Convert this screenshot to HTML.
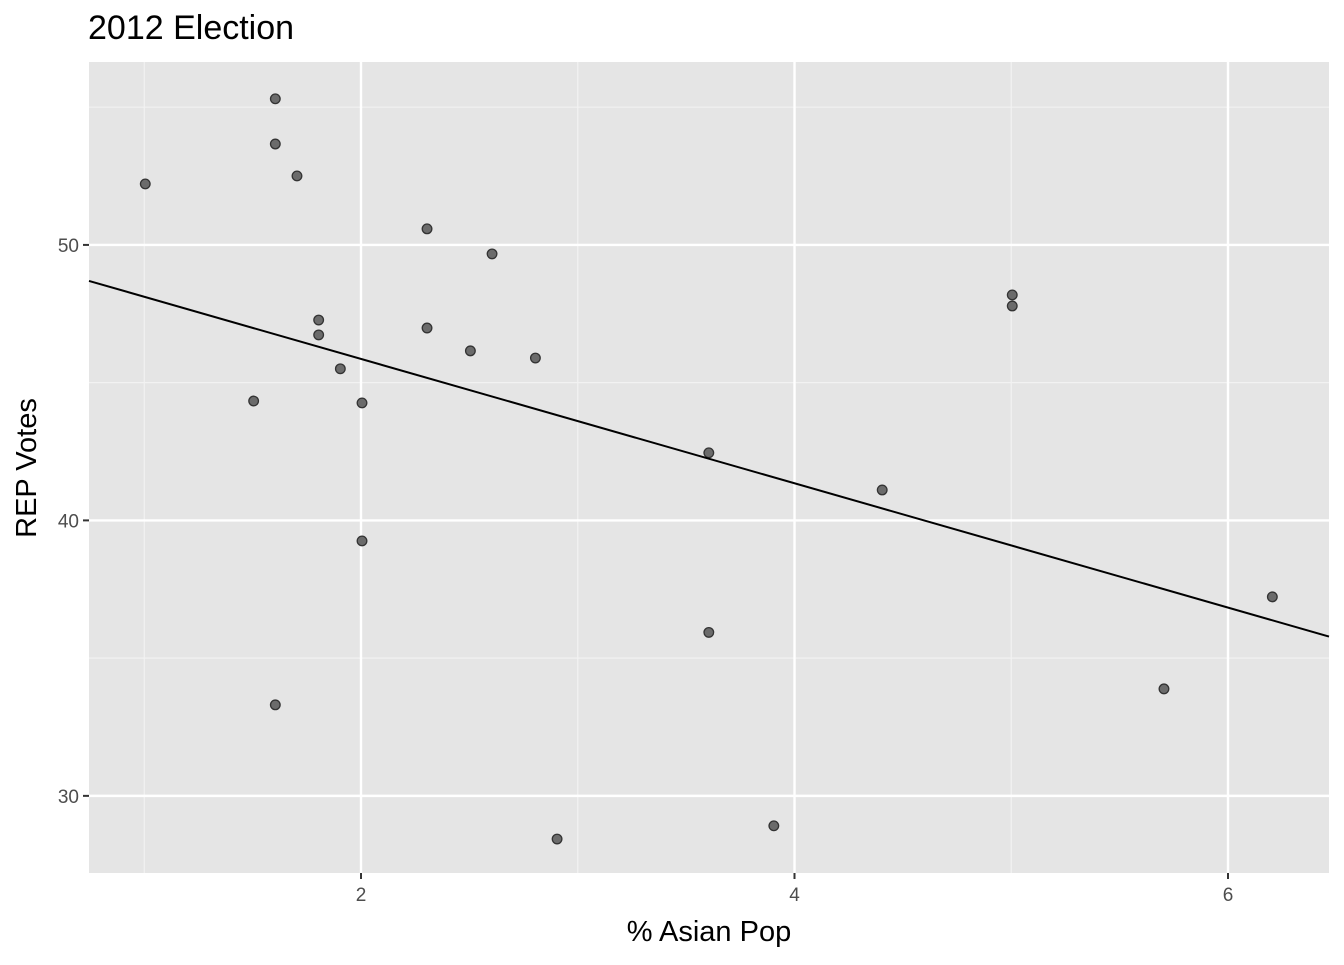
<!DOCTYPE html>
<html><head><meta charset="utf-8"><style>
body{margin:0;background:#fff;}
svg text{font-family:"Liberation Sans",sans-serif;}
</style></head><body>
<svg id="chart" width="1344" height="960" xmlns="http://www.w3.org/2000/svg">
<text x="88" y="39" font-size="34" fill="#000">2012 Election</text>
<rect x="89" y="62" width="1240" height="811" fill="#e5e5e5"/>
<g id="grid"></g><g id="marks"></g><g id="axes"></g>
<text x="709" y="941" font-size="29" text-anchor="middle" fill="#000">% Asian Pop</text>
<text transform="translate(36,468) rotate(-90)" font-size="29" text-anchor="middle" fill="#000">REP Votes</text>
</svg>
<script>
const xVals=[1.0,1.6,1.6,1.7,2.3,2.6,1.8,1.8,2.3,2.5,2.8,1.9,1.5,2.0,3.6,4.4,5.0,5.0,2.0,3.6,6.2,5.7,1.6,2.9,3.9];
const yVals=[52.25,55.34,53.7,52.54,50.62,49.71,47.31,46.77,47.02,46.19,45.93,45.54,44.37,44.30,42.49,41.14,48.22,47.82,39.29,35.97,37.26,33.92,33.34,28.47,28.95];
const xMajor=[2,4,6];
const xMinor=[1,3,5];
const yMajor=[30,40,50];
const yMinor=[35,45,55];
const xDomain=[0.745,6.466];
const yDomain=[27.2,56.64];
const L=89,R=1329,T=62,B=873;
const sx=v=>L+(v-xDomain[0])/(xDomain[1]-xDomain[0])*(R-L);
const sy=v=>B-(v-yDomain[0])/(yDomain[1]-yDomain[0])*(B-T);
const NS="http://www.w3.org/2000/svg";
function mk(p,tag,a){const e=document.createElementNS(NS,tag);for(const k in a)e.setAttribute(k,a[k]);p.appendChild(e);return e;}
const grid=document.getElementById('grid'),marks=document.getElementById('marks'),axes=document.getElementById('axes');
xMinor.forEach(v=>{const e=mk(grid,'line',{x1:sx(v),x2:sx(v),y1:T,y2:B,stroke:'#f2f2f2','stroke-width':1.2});

});
yMinor.forEach(v=>{const e=mk(grid,'line',{x1:L,x2:R,y1:sy(v),y2:sy(v),stroke:'#f2f2f2','stroke-width':1.2});

});
xMajor.forEach(v=>{const e=mk(grid,'line',{x1:sx(v),x2:sx(v),y1:T,y2:B,stroke:'#fff','stroke-width':2.4});


const t=mk(axes,'line',{x1:sx(v),x2:sx(v),y1:B,y2:B+6,stroke:'#333','stroke-width':2});


const l=mk(axes,'text',{x:sx(v),y:B+28,'font-size':19,'text-anchor':'middle',fill:'#4d4d4d'});l.textContent=v;

});
yMajor.forEach(v=>{const e=mk(grid,'line',{x1:L,x2:R,y1:sy(v),y2:sy(v),stroke:'#fff','stroke-width':2.4});


const t=mk(axes,'line',{x1:L-6,x2:L,y1:sy(v),y2:sy(v),stroke:'#333','stroke-width':2});


const l=mk(axes,'text',{x:L-10,y:sy(v)+7,'font-size':19,'text-anchor':'end',fill:'#4d4d4d'});l.textContent=v;

});
xVals.forEach((x,i)=>{const c=mk(marks,'circle',{cx:sx(x)+1,cy:sy(yVals[i])+1,r:4.8,fill:'#6b6b6b',stroke:'#333','stroke-width':1.3});

});
const n=xVals.length,mx=xVals.reduce((a,b)=>a+b)/n,my=yVals.reduce((a,b)=>a+b)/n;
let sxy=0,sxx=0;xVals.forEach((x,i)=>{sxy+=(x-mx)*(yVals[i]-my);sxx+=(x-mx)*(x-mx);});
const slope=sxy/sxx,ic=my-slope*mx;
const ln=mk(marks,'line',{x1:sx(xDomain[0]),y1:sy(ic+slope*xDomain[0]),x2:sx(xDomain[1]),y2:sy(ic+slope*xDomain[1]),stroke:'#000','stroke-width':2});


</script>
</body></html>
